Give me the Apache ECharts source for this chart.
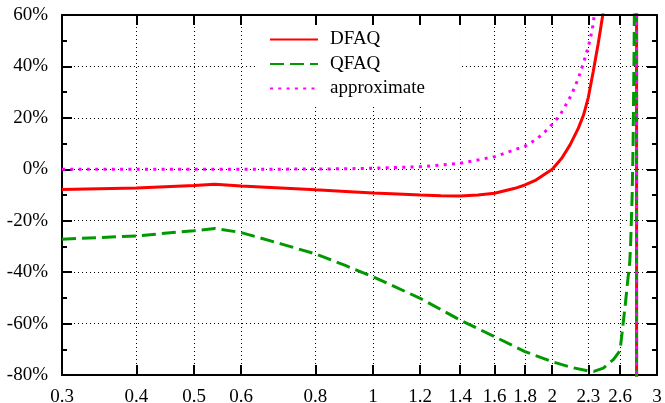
<!DOCTYPE html>
<html>
<head>
<meta charset="utf-8">
<script src="https://cdn.jsdelivr.net/npm/echarts@6/dist/echarts.min.js"></script>
<style>
  html, body { margin: 0; padding: 0; background: #fff; }
  #chart { width: 665px; height: 403px; }
</style>
</head>
<body>
<div id="chart"></div>
<script>
// Frequency ratio ticks on the logarithmic x axis
const xTicks = [0.3, 0.4, 0.5, 0.6, 0.8, 1, 1.2, 1.4, 1.6, 1.8, 2, 2.3, 2.6, 3];

// Relative error (%) of each method; the last two points of every curve
// straddle the pole near 2.772 where the error runs off to +/- infinity.
const dfaqX = [0.3, 0.4, 0.5, 0.542, 0.6, 0.7, 0.8, 0.9, 1.0, 1.1, 1.2, 1.3, 1.4, 1.5, 1.6, 1.731, 1.8, 1.878, 1.945, 2.0, 2.075, 2.143, 2.213, 2.257, 2.3, 2.344, 2.39, 2.432, 2.46, 2.772, 2.772];
const dfaqY = [-7.9, -7.3, -6.3, -5.8, -6.5, -7.3, -8.0, -8.6, -9.2, -9.6, -10.0, -10.25, -10.4, -10.0, -9.3, -7.4, -6.1, -4.2, -1.8, 0, 4.3, 9.5, 16.0, 21.0, 28.0, 38.0, 49.0, 60.0, 72, 1000, -1000];

const qfaqX = [0.3, 0.4, 0.5, 0.542, 0.6, 0.7, 0.8, 0.9, 1.0, 1.2, 1.4, 1.6, 1.8, 2.0, 2.15, 2.3, 2.35, 2.437, 2.534, 2.6, 2.628, 2.655, 2.676, 2.7, 2.71, 2.725, 2.735, 2.745, 2.752, 2.772, 2.772];
const qfaqY = [-27.2, -25.9, -23.9, -23.0, -24.6, -29.0, -32.9, -37.5, -41.8, -50.2, -58.6, -65.1, -70.9, -74.8, -77.0, -78.4, -78.6, -77.3, -74.0, -70.5, -61.2, -52.1, -44.3, -36, -28, -10, 10, 45, 80, 1000, -1000];

const apxX = [0.3, 0.6, 0.8, 0.9, 1.0, 1.2, 1.4, 1.6, 1.8, 1.884, 1.934, 2.0, 2.058, 2.12, 2.157, 2.213, 2.256, 2.3, 2.335, 2.36, 2.772, 2.772];
const apxY = [0, 0, 0.1, 0.2, 0.4, 1.0, 2.3, 4.9, 9.0, 11.8, 14.0, 17.5, 20.8, 26.0, 29.2, 35.4, 41.2, 47.7, 54.2, 62, 1000, -1000];

function pairs(xs, ys) {
  return xs.map((x, i) => [x, ys[i]]);
}

const FONT = "'Liberation Serif', 'Times New Roman', serif";
const frame = { show: true, onZero: false, lineStyle: { color: '#000', width: 2 } };
const tickStyle = { color: '#000', width: 2 };
const gridDots = { show: true, lineStyle: { color: '#000', width: 1, type: [1, 3] } };
const labelFont = { fontFamily: FONT, fontSize: 19, color: '#000' };

const xBase = { type: 'log', logBase: 10, min: 0.3, max: 3 };
const yBase = { type: 'value', min: -80, max: 60, interval: 20 };

const chart = echarts.init(document.getElementById('chart'));
chart.setOption({
  animation: false,
  backgroundColor: '#fff',
  textStyle: { fontFamily: FONT },
  grid: { left: 62, right: 8, top: 15, bottom: 28, containLabel: false, outerBoundsMode: 'none' },
  legend: {
    orient: 'vertical',
    left: 256,
    top: 16,
    z: 4,
    backgroundColor: '#fff',
    padding: [14, 36, 8, 13],
    itemWidth: 48,
    itemHeight: 14,
    itemGap: 5.5,
    itemStyle: { opacity: 0 },
    textStyle: Object.assign({ padding: [0, 0, 0, 7] }, labelFont),
    data: ['DFAQ', 'QFAQ', 'approximate']
  },
  xAxis: [
    Object.assign({}, xBase, {
      position: 'bottom',
      z: 0,
      axisLine: frame,
      axisTick: { inside: true, length: 10, customValues: xTicks, lineStyle: tickStyle },
      axisLabel: Object.assign({
        customValues: xTicks,
        margin: 13,
        formatter: v => String(+Number(v).toPrecision(2))
      }, labelFont),
      splitLine: gridDots
    }),
    Object.assign({}, xBase, {
      position: 'top',
      z: 5,
      axisLine: frame,
      axisTick: { inside: true, length: 10, customValues: xTicks, lineStyle: tickStyle },
      axisLabel: { show: false, customValues: xTicks },
      splitLine: { show: false }
    })
  ],
  yAxis: [
    Object.assign({}, yBase, {
      position: 'left',
      axisLine: frame,
      axisTick: { inside: true, length: 10, lineStyle: tickStyle },
      minorTick: { show: true, splitNumber: 2, length: 5, lineStyle: tickStyle },
      axisLabel: Object.assign({ margin: 14, formatter: '{value}%' }, labelFont),
      splitLine: gridDots
    }),
    Object.assign({}, yBase, {
      position: 'right',
      axisLine: frame,
      axisTick: { inside: true, length: 10, lineStyle: tickStyle },
      minorTick: { show: true, splitNumber: 2, length: 5, lineStyle: tickStyle },
      axisLabel: { show: false },
      splitLine: { show: false }
    })
  ],
  series: [
    {
      name: 'DFAQ', type: 'line', xAxisIndex: 0, yAxisIndex: 0,
      symbol: 'none', clip: true,
      lineStyle: { color: '#ff0000', width: 3 },
      itemStyle: { color: '#ff0000' },
      data: pairs(dfaqX, dfaqY)
    },
    {
      name: 'QFAQ', type: 'line', xAxisIndex: 0, yAxisIndex: 0,
      symbol: 'none', clip: true,
      lineStyle: { color: '#009900', width: 3, type: [14, 6] },
      itemStyle: { color: '#009900' },
      data: pairs(qfaqX, qfaqY)
    },
    {
      name: 'approximate', type: 'line', xAxisIndex: 0, yAxisIndex: 0,
      symbol: 'none', clip: true,
      lineStyle: { color: '#ff00ff', width: 3, type: [3, 5.3] },
      itemStyle: { color: '#ff00ff' },
      data: pairs(apxX, apxY)
    }
  ]
});
</script>
</body>
</html>
